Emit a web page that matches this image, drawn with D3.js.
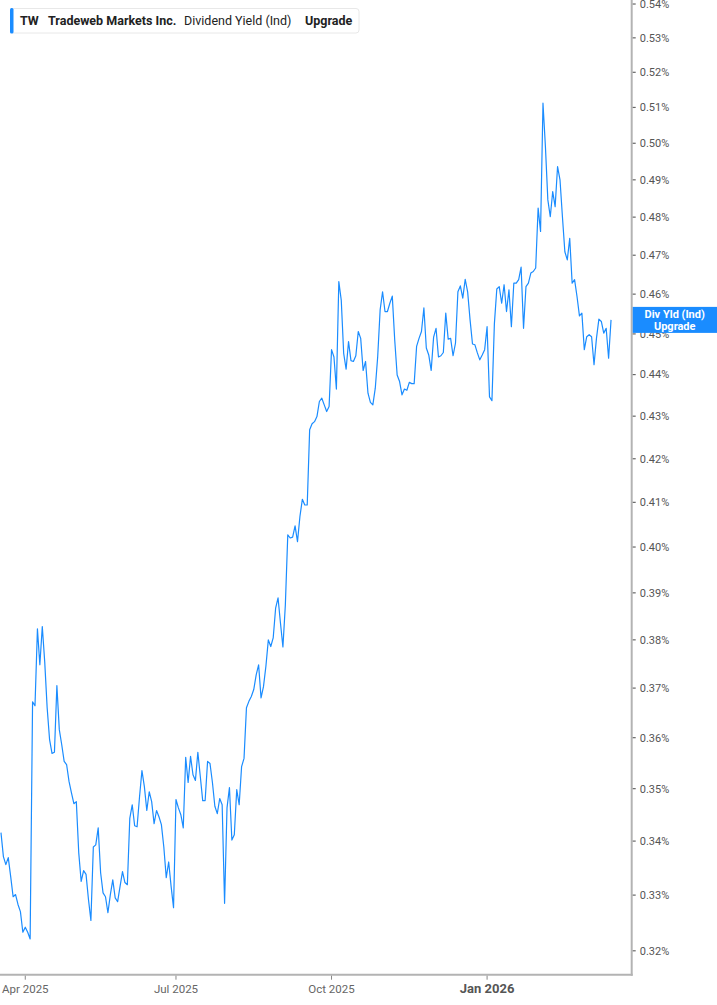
<!DOCTYPE html>
<html>
<head>
<meta charset="utf-8">
<script src="https://cdn.jsdelivr.net/npm/d3@7.9.0/dist/d3.min.js"></script>
<style>
  html, body { margin: 0; padding: 0; background: #fff; }
  svg { display: block; font-family: Roboto, "Noto Sans", sans-serif; }
</style>
</head>
<body>
<svg id="chart" width="717" height="1005"></svg>
<script>
// dividend yield (%), one value per trading day, 2025-03-18 .. 2026-03-18
const yieldMarJun25 = [
  0.3416, 0.3371, 0.3356, 0.3369, 0.3334, 0.3297, 0.3301, 0.3283, 0.3270, 0.3233,
  0.3242, 0.3233, 0.3221, 0.3672, 0.3664, 0.3823, 0.3748, 0.3828, 0.3754, 0.3660,
  0.3596, 0.3569, 0.3571, 0.3705, 0.3616, 0.3586, 0.3553, 0.3547, 0.3514, 0.3492,
  0.3471, 0.3475, 0.3378, 0.3325, 0.3345, 0.3338, 0.3292, 0.3254, 0.3389, 0.3393,
  0.3425, 0.3341, 0.3304, 0.3297, 0.3268, 0.3301, 0.3328, 0.3295, 0.3288, 0.3316,
  0.3343, 0.3323, 0.3319, 0.3443, 0.3469, 0.3429, 0.3427, 0.3484, 0.3535, 0.3504,
  0.3458, 0.3494, 0.3475, 0.3433, 0.3458, 0.3446, 0.3431, 0.3389, 0.3332, 0.3361,
  0.3316, 0.3277
];
const yieldJulSep25 = [
  0.3479, 0.3463, 0.3450, 0.3425, 0.3561, 0.3512, 0.3563, 0.3527, 0.3516, 0.3571,
  0.3524, 0.3477, 0.3477, 0.3553, 0.3549, 0.3512, 0.3466, 0.3452, 0.3481, 0.3469,
  0.3285, 0.3463, 0.3502, 0.3402, 0.3412, 0.3498, 0.3469, 0.3543, 0.3559, 0.3660,
  0.3673, 0.3683, 0.3697, 0.3727, 0.3748, 0.3680, 0.3703, 0.3745, 0.3800, 0.3786,
  0.3804, 0.3867, 0.3889, 0.3835, 0.3785, 0.3874, 0.4027, 0.4020, 0.4022, 0.4047,
  0.4012, 0.4068, 0.4107, 0.4094, 0.4094, 0.4268, 0.4282, 0.4287, 0.4299, 0.4335,
  0.4343, 0.4327, 0.4311, 0.4323
];
const yieldOctDec25 = [
  0.4461, 0.4443, 0.4365, 0.4632, 0.4585, 0.4452, 0.4413, 0.4481, 0.4434, 0.4432,
  0.4446, 0.4506, 0.4489, 0.4410, 0.4432, 0.4355, 0.4333, 0.4327, 0.4367, 0.4444,
  0.4560, 0.4606, 0.4556, 0.4556, 0.4577, 0.4595, 0.4485, 0.4399, 0.4383, 0.4351,
  0.4365, 0.4362, 0.4381, 0.4378, 0.4378, 0.4469, 0.4489, 0.4506, 0.4565, 0.4465,
  0.4448, 0.4410, 0.4492, 0.4514, 0.4443, 0.4446, 0.4454, 0.4552, 0.4487, 0.4489,
  0.4446, 0.4477, 0.4606, 0.4621, 0.4590, 0.4638, 0.4606, 0.4535, 0.4475, 0.4473,
  0.4453, 0.4436, 0.4448, 0.4461
];
const yieldJanMar26 = [
  0.4518, 0.4346, 0.4337, 0.4525, 0.4613, 0.4619, 0.4577, 0.4624, 0.4556, 0.4611,
  0.4518, 0.4628, 0.4628, 0.4637, 0.4669, 0.4514, 0.4619, 0.4628, 0.4654, 0.4658,
  0.4667, 0.4824, 0.4762, 0.5112, 0.4991, 0.4846, 0.4801, 0.4868, 0.4828, 0.4936,
  0.4900, 0.4801, 0.4709, 0.4688, 0.4744, 0.4628, 0.4637, 0.4594, 0.4545, 0.4552,
  0.4461, 0.4493, 0.4498, 0.4493, 0.4424, 0.4489, 0.4537, 0.4531, 0.4502, 0.4514,
  0.4440, 0.4535
];

const startDate = '2025-03-18';
const holidays = ['2025-04-18', '2025-05-26', '2025-06-19', '2025-07-04', '2025-09-01',
  '2025-11-27', '2025-12-25', '2026-01-01', '2026-01-19', '2026-02-16'];
const yTicks = [0.32, 0.33, 0.34, 0.35, 0.36, 0.37, 0.38, 0.39, 0.40, 0.41, 0.42,
  0.43, 0.44, 0.45, 0.46, 0.47, 0.48, 0.49, 0.50, 0.51, 0.52, 0.53, 0.54];
const xTickMonths = ['2025-04', '2025-07', '2025-10', '2026-01'];

const values = [...yieldMarJun25, ...yieldJulSep25, ...yieldOctDec25, ...yieldJanMar26];

// trading days for each value
const fmtDay = d3.timeFormat('%Y-%m-%d');
const dates = [];
let day = d3.timeParse('%Y-%m-%d')(startDate);
while (dates.length < values.length) {
  const wd = day.getDay();
  if (wd !== 0 && wd !== 6 && !holidays.includes(fmtDay(day))) dates.push(day);
  day = d3.timeDay.offset(day, 1);
}
const data = values.map((v, i) => ({ i: i, date: dates[i], value: v }));

const plotW = 631.7, plotH = 974.7;
const svg = d3.select('#chart');

const x = d3.scaleLinear().domain([-0.4, 259.5]).range([0, plotW]);
const y = d3.scaleLog().domain([0.3158, 0.5412]).range([plotH, 0]);

svg.append('clipPath').attr('id', 'plot-clip')
   .append('rect').attr('x', 0).attr('y', 0).attr('width', plotW).attr('height', plotH);

// line
const line = d3.line().x((d) => x(d.i)).y((d) => y(d.value));
svg.append('path')
   .datum(data)
   .attr('clip-path', 'url(#plot-clip)')
   .attr('fill', 'none')
   .attr('stroke', '#1a8cff')
   .attr('stroke-width', 1.2)
   .attr('stroke-linejoin', 'round')
   .attr('d', line);

// y axis on the right
const yAxis = svg.append('g').attr('transform', `translate(${plotW},0)`);
yAxis.append('line')
     .attr('x1', 0).attr('x2', 0).attr('y1', 0).attr('y2', plotH + 1)
     .attr('stroke', '#b3b3b3').attr('stroke-width', 2);
yTicks.forEach((t) => {
  const g = yAxis.append('g').attr('transform', `translate(0,${y(t)})`);
  g.append('line').attr('x1', 1).attr('x2', 4).attr('stroke', '#666').attr('stroke-width', 1.2);
  g.append('text')
   .attr('x', 8).attr('dy', '0.35em')
   .attr('font-size', 11).attr('fill', '#555')
   .text(d3.format('.2f')(t) + '%');
});

// x axis at the bottom
const xAxis = svg.append('g').attr('transform', `translate(0,${plotH})`);
xAxis.append('line')
     .attr('x1', 0).attr('x2', plotW + 1).attr('y1', 0).attr('y2', 0)
     .attr('stroke', '#b3b3b3').attr('stroke-width', 2);
xTickMonths.forEach((m) => {
  const idx = dates.findIndex((d) => d3.timeFormat('%Y-%m')(d) === m);
  const isYear = m.endsWith('-01');
  const g = xAxis.append('g').attr('transform', `translate(${x(idx)},0)`);
  g.append('line').attr('y1', 1).attr('y2', 5).attr('stroke', '#888');
  g.append('text')
   .attr('y', 18).attr('text-anchor', 'middle')
   .attr('font-size', isYear ? 13 : 11.5)
   .attr('font-weight', isYear ? 'bold' : 'normal')
   .attr('fill', isYear ? '#555' : '#666')
   .text(d3.timeFormat(isYear ? '%b %Y' : '%b %Y')(dates[idx]));
});

// last value tag
const lastY = y(values[values.length - 1]);
const tag = svg.append('g').attr('transform', `translate(${plotW + 1},${lastY - 13})`);
tag.append('rect').attr('width', 717 - plotW).attr('height', 26).attr('fill', '#1a8cff');
tag.append('text').attr('x', 42).attr('y', 11).attr('text-anchor', 'middle')
   .attr('font-size', 11).attr('font-weight', 'bold').attr('fill', '#fff').text('Div Yld (Ind)');
tag.append('text').attr('x', 42).attr('y', 23).attr('text-anchor', 'middle')
   .attr('font-size', 11).attr('font-weight', 'bold').attr('fill', '#fff').text('Upgrade');

// header legend
const header = svg.append('g');
header.append('rect')
      .attr('x', 10.5).attr('y', 8.5).attr('width', 348.5).attr('height', 24.5).attr('rx', 3)
      .attr('fill', '#fff').attr('stroke', '#e8e8e8');
header.append('rect')
      .attr('x', 10).attr('y', 8).attr('width', 3.5).attr('height', 25.5).attr('rx', 1.5)
      .attr('fill', '#1a8cff');
const headerTexts = [
  { text: 'TW', x: 20, bold: true },
  { text: 'Tradeweb Markets Inc.', x: 48, bold: true },
  { text: 'Dividend Yield (Ind)', x: 184, bold: false },
  { text: 'Upgrade', x: 305, bold: true }
];
headerTexts.forEach((h) => {
  header.append('text')
        .attr('x', h.x).attr('y', 25)
        .attr('font-size', 12.5)
        .attr('font-weight', h.bold ? 'bold' : 'normal')
        .attr('fill', '#222')
        .text(h.text);
});
</script>
</body>
</html>
